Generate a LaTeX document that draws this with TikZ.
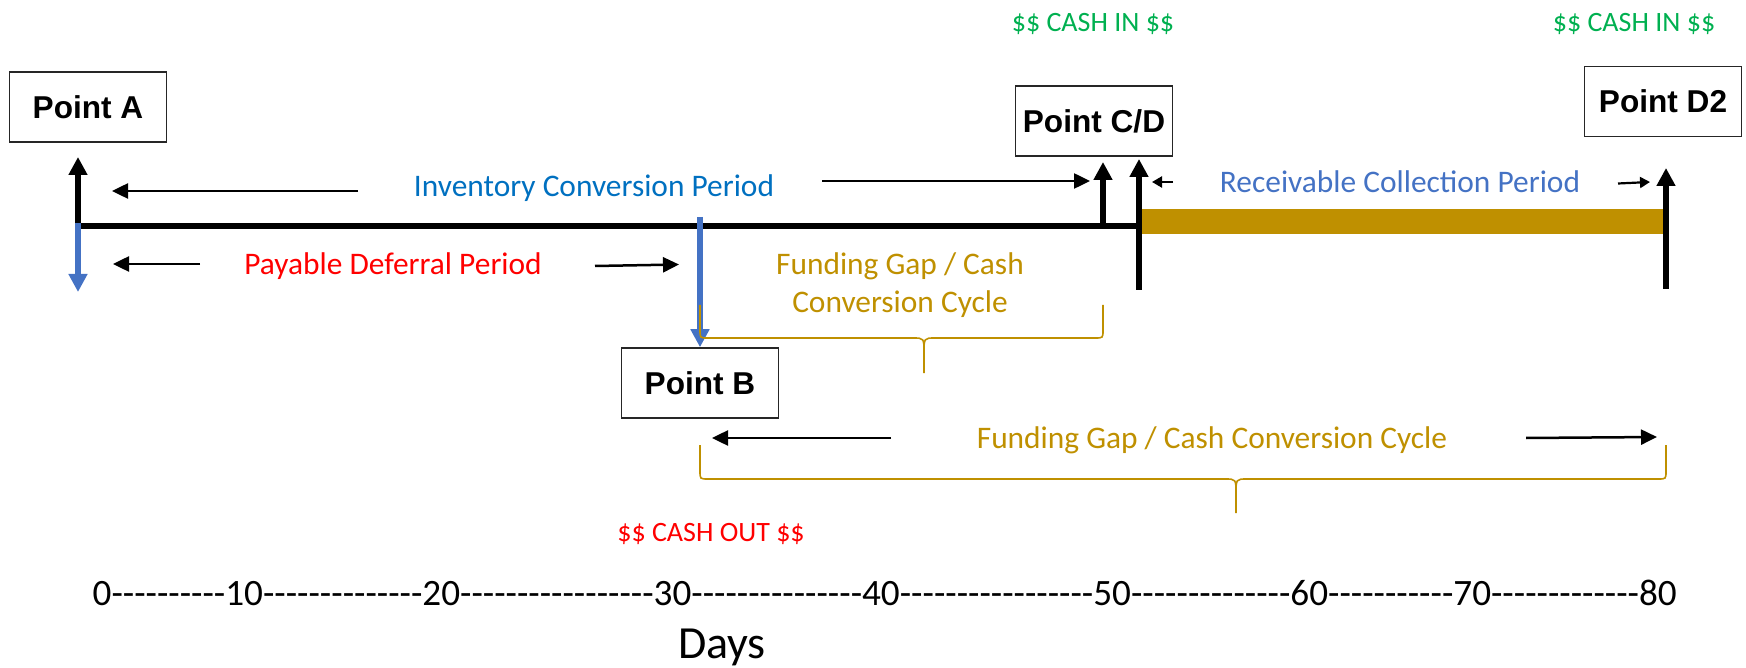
\documentclass[tikz,border=0pt]{standalone}
\usepackage{fontspec}
\setmainfont{Carlito}
\newfontfamily\boxfont{Liberation Sans}
\newfontfamily\axisfont{Carlito}[Ligatures=TeXOff]
\usetikzlibrary{arrows.meta}
\definecolor{cgreen}{HTML}{00B050}
\definecolor{cblue}{HTML}{0070C0}
\definecolor{cbluetwo}{HTML}{4472C4}
\definecolor{cred}{HTML}{FF0000}
\definecolor{cgold}{HTML}{BF9000}
\begin{document}
\begin{tikzpicture}[x=0.5pt,y=-0.5pt,
  pointbox/.style={draw=black!85, line width=0.75pt, minimum width=78.5pt, minimum height=35pt, inner sep=0pt, fill=white,
    font=\boxfont\bfseries\fontsize{15.8}{19}\selectfont},
  lbl/.style={anchor=base, inner sep=0pt, font=\fontsize{15.7}{19}\selectfont},
  cashlbl/.style={anchor=base, inner sep=0pt, text=cgreen, font=\fontsize{14}{17}\selectfont},
  thinarrow/.style={line width=1.25pt, -{Triangle[length=8pt,width=7.5pt]}},
  smallarrow/.style={line width=1.1pt, -{Triangle[length=5pt,width=5.5pt]}},
  thickarrow/.style={line width=3pt, -{Triangle[length=9pt,width=9pt]}},
  brace/.style={cgold, line width=0.8pt},
]
\useasboundingbox (0,0) rectangle (1746,668);

% boxes
\node[pointbox] (pA) at (88,107) {Point A};
\node[pointbox] (pCD) at (1094,121) {Point C/D};
\node[pointbox] (pD) at (1663,101.5) {Point D2};
\node[pointbox] (pB) at (700,383) {Point B};

% coordinates
\coordinate (lineL) at (78,226);
\coordinate (lineR) at (1139,226);
\coordinate (barL) at (1140,221.5);
\coordinate (barR) at (1665,221.5);
\coordinate (aUpB) at (78,229);
\coordinate (aUpT) at (78,157);
\coordinate (aDnT) at (78,223);
\coordinate (aDnB) at (78,292);
\coordinate (bTop) at (700,217);
\coordinate (c1B) at (1103,229);
\coordinate (c1T) at (1103,162);
\coordinate (c2B) at (1139,290);
\coordinate (c2T) at (1139,159);
\coordinate (dB) at (1666,289);
\coordinate (dT) at (1666,168);

\coordinate (invLs) at (358,191);
\coordinate (invLe) at (112,191);
\coordinate (invRs) at (822,181);
\coordinate (invRe) at (1090,181);
\coordinate (payLs) at (200,264);
\coordinate (payLe) at (113,264);
\coordinate (payRs) at (595,266);
\coordinate (payRe) at (679,264.5);
\coordinate (rcLs) at (1173,182);
\coordinate (rcLe) at (1152,182);
\coordinate (rcRs) at (1618,183.5);
\coordinate (rcRe) at (1650,182);
\coordinate (fgLs) at (891,438);
\coordinate (fgLe) at (712,438);
\coordinate (fgRs) at (1526,438);
\coordinate (fgRe) at (1657,437);

% main line and bar
\draw[line width=3pt] (lineL) -- (lineR);
\draw[cgold, line width=12.5pt] (barL) -- (barR);

% vertical arrows
\draw[thickarrow] (aUpB) -- (aUpT);
\draw[thickarrow, cbluetwo] (aDnT) -- (aDnB);
\draw[thickarrow, cbluetwo] (bTop) -- (pB.north);
\draw[thickarrow] (c1B) -- (c1T);
\draw[thickarrow] (c2B) -- (c2T);
\draw[thickarrow] (dB) -- (dT);

% horizontal arrows
\draw[thinarrow] (invLs) -- (invLe);
\draw[thinarrow] (invRs) -- (invRe);
\draw[thinarrow] (payLs) -- (payLe);
\draw[thinarrow] (payRs) -- (payRe);
\draw[smallarrow] (rcLs) -- (rcLe);
\draw[smallarrow] (rcRs) -- (rcRe);
\draw[thinarrow] (fgLs) -- (fgLe);
\draw[thinarrow] (fgRs) -- (fgRe);

% braces
\draw[brace] (700,305) -- (700,330) .. controls (700,338) .. (708,338) -- (913,338) .. controls (924,338) .. (924,353) -- (924,373);
\draw[brace] (1103,305) -- (1103,330) .. controls (1103,338) .. (1095,338) -- (935,338) .. controls (924,338) .. (924,353);
\draw[brace] (700,445) -- (700,471) .. controls (700,479) .. (708,479) -- (1225,479) .. controls (1236,479) .. (1236,494) -- (1236,513);
\draw[brace] (1666,445) -- (1666,471) .. controls (1666,479) .. (1658,479) -- (1247,479) .. controls (1236,479) .. (1236,494);

% texts
\node[cashlbl] (cin1) at (1093,32) {\$\$ CASH IN \$\$};
\node[cashlbl] (cin2) at (1634,32) {\$\$ CASH IN \$\$};
\node[lbl, text=cblue] (icp) at (594,197) {Inventory Conversion Period};
\node[lbl, text=cbluetwo] (rcp) at (1400,193) {Receivable Collection Period};
\node[lbl, text=cred] (pdp) at (393,275) {Payable Deferral Period};
\node[lbl, text=cgold, align=center] (fga) at (900,313) {Funding Gap / Cash\\Conversion Cycle};
\node[lbl, text=cgold] (fgb) at (1212,448) {Funding Gap / Cash Conversion Cycle};
\node[cashlbl, text=cred] (cout) at (711,541) {\$\$ CASH OUT \$\$};
\node[anchor=base, inner sep=0pt, font=\axisfont\fontsize{18.6}{22}\selectfont] (axis) at (885,605)
  {0----------10--------------20-----------------30---------------40-----------------50--------------60-----------70-------------80};
\node[anchor=base, inner sep=0pt, font=\fontsize{23}{27}\selectfont] (days) at (722,658) {Days};
\end{tikzpicture}
\end{document}
